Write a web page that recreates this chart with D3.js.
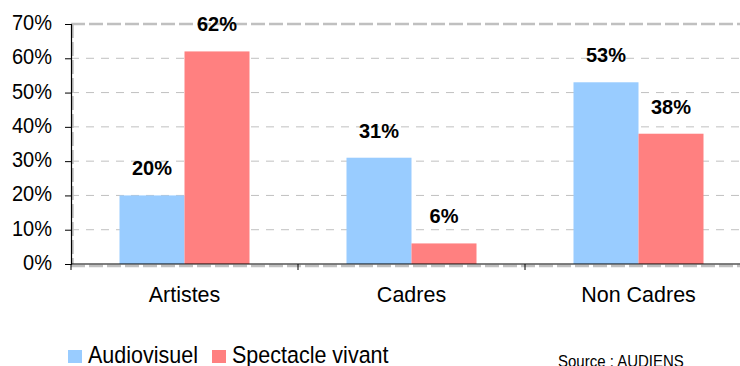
<!DOCTYPE html>
<html>
<head>
<meta charset="utf-8">
<script src="https://cdn.jsdelivr.net/npm/d3@7"></script>
<style>
  html, body { margin: 0; padding: 0; background: #fff; }
  svg { display: block; font-family: "Liberation Sans", Arial, sans-serif; }
</style>
</head>
<body>
<svg id="chart" width="740" height="366"></svg>
<script>
// Répartition par catégorie professionnelle
const categories = ["Artistes", "Cadres", "Non Cadres"];
const seriesNames = ["Audiovisuel", "Spectacle vivant"];
const audiovisuel = [20, 31, 53];
const spectacleVivant = [62, 6, 38];
const yTicks = [0, 10, 20, 30, 40, 50, 60, 70];
const colors = ["#99CCFF", "#FF8080"];
const sourceText = "Source : AUDIENS";

const rows = categories.map((c, i) => ({
  category: c,
  values: [
    { series: seriesNames[0], value: audiovisuel[i] },
    { series: seriesNames[1], value: spectacleVivant[i] }
  ]
}));

const svg = d3.select("#chart");
const plotLeft = 71, plotRight = 752, plotTop = 24, plotBottom = 264;

const x0 = d3.scaleBand().domain(categories).range([plotLeft, plotRight]).paddingInner(0).paddingOuter(0);
const x1 = d3.scaleBand().domain(seriesNames).range([0, x0.bandwidth()]).paddingInner(0).paddingOuter(0.746);
const y = d3.scaleLinear().domain([0, 70]).range([plotBottom, plotTop]);
const color = d3.scaleOrdinal().domain(seriesNames).range(colors);

// Horizontal dashed gridlines
svg.append("g")
  .selectAll("line")
  .data(yTicks.filter(t => t > 0 && t < 70))
  .join("line")
  .attr("x1", plotLeft).attr("x2", plotRight)
  .attr("y1", d => y(d)).attr("y2", d => y(d))
  .attr("stroke", "#c0c0c0")
  .attr("stroke-width", 1)
  .attr("stroke-dasharray", "8,7");

// Plot-area frame (dashed grey)
const frame = svg.append("g").attr("fill", "none").attr("stroke", "#c0c0c0")
  .attr("stroke-width", 2.5).attr("stroke-dasharray", "14,4");
frame.append("line").attr("x1", plotLeft).attr("x2", plotRight).attr("y1", y(70)).attr("y2", y(70));
frame.append("line").attr("x1", plotLeft + 1.5).attr("x2", plotLeft + 1.5).attr("y1", y(70)).attr("y2", plotBottom);
frame.append("line").attr("x1", plotLeft).attr("x2", plotRight).attr("y1", plotBottom + 2).attr("y2", plotBottom + 2);

// Bars
const groups = svg.append("g")
  .selectAll("g")
  .data(rows)
  .join("g")
  .attr("transform", d => `translate(${x0(d.category)},0)`);

groups.selectAll("rect")
  .data(d => d.values)
  .join("rect")
  .attr("x", d => x1(d.series))
  .attr("width", x1.bandwidth())
  .attr("y", d => y(d.value))
  .attr("height", d => y(0) - y(d.value))
  .attr("fill", d => color(d.series));

// Value labels
groups.selectAll("text")
  .data(d => d.values)
  .join("text")
  .attr("x", d => x1(d.series) + x1.bandwidth() / 2)
  .attr("y", d => y(d.value) - 20)
  .attr("text-anchor", "middle")
  .attr("font-size", 20)
  .attr("font-weight", "bold")
  .attr("fill", "#000")
  .text(d => d.value + "%");

// Y axis
const yAxis = svg.append("g")
  .attr("transform", `translate(${plotLeft},0)`)
  .call(d3.axisLeft(y).tickValues(yTicks).tickFormat(d => d + "%").tickSize(6).tickPadding(13));
yAxis.select(".domain").attr("stroke", "#000").attr("stroke-width", 1.2);
yAxis.selectAll(".tick line").attr("stroke", "#000");
yAxis.selectAll(".tick text")
  .attr("font-size", 20)
  .attr("font-family", "'Liberation Sans', Arial, sans-serif")
  .attr("fill", "#000")
  .attr("dy", "0.25em")
  .attr("transform", "scale(1,1.1)");

// X axis with ticks between categories
const xAxis = svg.append("g")
  .attr("transform", `translate(0,${plotBottom})`);
xAxis.append("line")
  .attr("x1", plotLeft).attr("x2", plotRight)
  .attr("stroke", "#000").attr("stroke-width", 1.2);
xAxis.selectAll("line.tk")
  .data(categories.concat(["_end"]))
  .join("line")
  .attr("class", "tk")
  .attr("x1", (d, i) => plotLeft + i * x0.step())
  .attr("x2", (d, i) => plotLeft + i * x0.step())
  .attr("y1", 0).attr("y2", 6)
  .attr("stroke", "#000");
xAxis.selectAll("text")
  .data(categories)
  .join("text")
  .attr("transform", d => `translate(${x0(d) + x0.bandwidth() / 2},38) scale(1,1.04)`)
  .attr("text-anchor", "middle")
  .attr("font-size", 21.5)
  .attr("fill", "#000")
  .text(d => d);

// Legend
const legend = svg.append("g");
const legendX = [68, 212];
seriesNames.forEach((s, i) => {
  legend.append("rect")
    .attr("x", legendX[i]).attr("y", 350)
    .attr("width", 14).attr("height", 13)
    .attr("fill", color(s));
  legend.append("text")
    .attr("transform", `translate(${legendX[i] + 20},362.5) scale(1,1.1)`)
    .attr("font-size", 21.5)
    .attr("fill", "#000")
    .text(s);
});

// Source
svg.append("text")
  .attr("transform", "translate(558,367) scale(1,1.1)")
  .attr("font-size", 15)
  .attr("fill", "#000")
  .text(sourceText);
</script>
</body>
</html>
